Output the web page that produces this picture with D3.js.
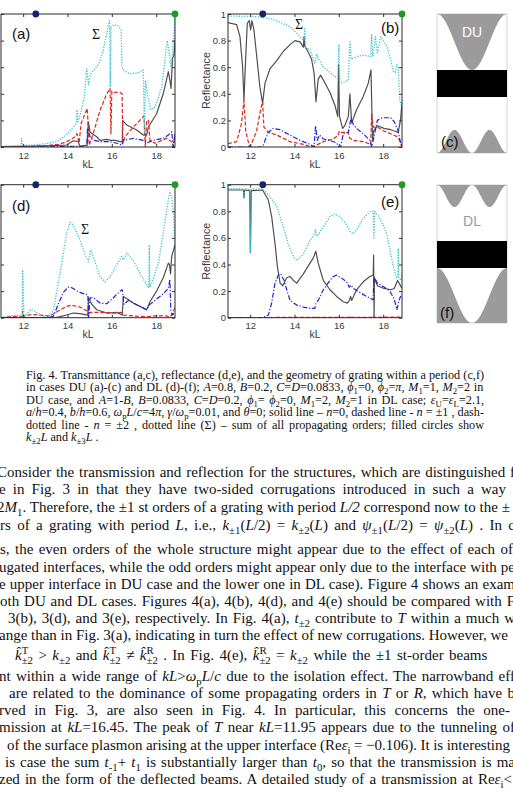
<!DOCTYPE html>
<html>
<head>
<meta charset="utf-8">
<script src="https://cdn.jsdelivr.net/npm/d3@7/dist/d3.min.js"></script>
<style>
  body { margin: 0; background: #fff; }
  svg { display: block; }
</style>
</head>
<body>
<div id="page"></div>
<script>
// ---------- data ----------
const kLRange = [11, 18.85];
const xTickValues = [12, 14, 16, 18];
const yTickValues = [0, 0.2, 0.4, 0.6, 0.8, 1];
const circleKL = [12.57, 18.85];          // k±2 L and k±3 L
const circleColors = ["#15256b", "#1f9b2a"];

// (a) transmittance, DU
const aSolid = [[11,0.003],[12,0.005],[13,0.008],[13.6,0.012],[13.96,0.015],[14.26,0.047],[14.49,0.04],[14.56,0.003],[14.89,0.015],[14.94,0.19],[15.02,0.11],[15.32,0.077],[15.47,0.05],[15.77,0.057],[15.96,0.05],[16.14,0.05],[16.37,0.04],[16.47,0.04],[16.49,0.2],[16.67,0.165],[17.12,0.128],[17.42,0.09],[17.57,0.09],[17.65,0.15],[18.02,0.25],[18.32,0.4],[18.55,0.566],[18.62,0.5],[18.67,0.44],[18.74,0.667],[18.8,0.69],[18.85,0.8]];
const aDash = [[11,0.002],[12,0.004],[13,0.01],[13.6,0.02],[13.96,0.04],[14.33,0.075],[14.43,0.1],[14.52,0.03],[14.62,0.18],[14.89,0.29],[14.98,0.015],[15.16,0.1],[15.47,0.277],[15.77,0.4],[15.92,0.44],[15.96,0.1],[16.0,0.42],[16.14,0.41],[16.37,0.41],[16.46,0.4],[16.5,0.03],[16.59,0.077],[16.97,0.15],[17.35,0.215],[17.45,0.233],[17.51,0.005],[17.57,0.2],[17.65,0.2],[17.72,0.05],[17.95,0.028],[18.47,0.065],[18.7,0.04],[18.77,0.003],[18.85,0.1]];
const aDashDot = [[11,0],[12.57,0],[13.5,0.003],[14.5,0.006],[14.87,0.008],[14.9,0.14],[15.02,0.077],[15.17,0.05],[15.47,0.04],[15.92,0.04],[16.22,0.028],[16.46,0.015],[16.52,0.05],[16.97,0.065],[17.42,0.05],[17.57,0.03],[17.87,0.05],[18.32,0.065],[18.55,0.09],[18.7,0.115],[18.77,0.003],[18.85,0.1]];
const aSum = [[11,0.005],[11.5,0.008],[11.9,0.01],[11.93,0.065],[11.96,0.012],[12.5,0.015],[13,0.025],[13.5,0.04],[13.95,0.09],[14.3,0.16],[14.4,0.18],[14.43,0.28],[14.47,0.19],[14.6,0.26],[14.75,0.37],[14.87,0.59],[14.95,0.47],[15.05,0.55],[15.3,0.6],[15.45,0.64],[15.6,0.72],[15.75,0.84],[15.9,0.95],[15.93,0.45],[15.96,0.9],[16.1,0.92],[16.3,0.91],[16.42,0.88],[16.46,0.6],[16.52,0.58],[16.8,0.55],[17.2,0.56],[17.42,0.58],[17.47,0.11],[17.52,0.5],[17.6,0.4],[17.75,0.28],[17.95,0.3],[18.25,0.45],[18.5,0.8],[18.6,0.7],[18.67,0.6],[18.75,0.73],[18.82,0.9],[18.85,1.0]];

// (b) reflectance, DU
const bSolid = [[11,0.935],[11.39,0.92],[11.54,0.83],[11.66,0.6],[11.72,0.35],[11.78,0.6],[11.87,0.93],[11.96,0.95],[12.02,0.88],[12.08,0.95],[12.17,0.88],[12.29,0.69],[12.44,0.45],[12.56,0.33],[12.67,0.48],[12.9,0.59],[13.2,0.65],[13.5,0.72],[13.8,0.77],[14.02,0.8],[14.25,0.79],[14.4,0.75],[14.43,0.83],[14.46,0.76],[14.6,0.72],[14.77,0.66],[14.88,0.56],[14.97,0.34],[15.07,0.51],[15.18,0.54],[15.38,0.48],[15.6,0.41],[15.83,0.31],[15.95,0.23],[15.99,0.62],[16.03,0.23],[16.17,0.14],[16.27,0.16],[16.43,0.23],[16.5,0.4],[16.58,0.18],[16.8,0.28],[17.1,0.38],[17.33,0.48],[17.45,0.58],[17.52,0.05],[17.57,0.12],[17.74,0.16],[18.04,0.14],[18.34,0.13],[18.5,0.12],[18.68,0.11],[18.78,0.2],[18.85,0.33]];
const bDash = [[11,0.025],[11.39,0.04],[11.6,0.17],[11.72,0.35],[11.8,0.12],[11.96,0.005],[12.06,0.025],[12.29,0.12],[12.47,0.28],[12.56,0.34],[12.62,0.15],[12.82,0.11],[13.2,0.09],[13.8,0.04],[14.4,0.02],[14.77,0.0],[15.0,0.015],[15.3,0.04],[15.75,0.06],[15.98,0.09],[16.02,0.12],[16.1,0.11],[16.43,0.11],[16.48,0.07],[16.65,0.05],[17.1,0.04],[17.44,0.02],[17.48,0.25],[17.55,0.15],[17.74,0.15],[18.04,0.12],[18.34,0.1],[18.6,0.08],[18.75,0.05],[18.85,0.0]];
const bDashDot = [[11,0],[12.56,0],[12.67,0.05],[12.82,0.11],[13.04,0.14],[13.34,0.13],[13.8,0.09],[14.25,0.05],[14.7,0.02],[14.88,0.0],[14.95,0.16],[15.03,0.05],[15.13,0.09],[15.3,0.06],[15.6,0.05],[15.9,0.03],[16.0,0.0],[16.08,0.0],[16.2,0.1],[16.43,0.11],[16.55,0.22],[16.65,0.17],[16.8,0.14],[17.1,0.1],[17.4,0.05],[17.48,0.0],[17.55,0.05],[17.74,0.2],[17.96,0.22],[18.34,0.22],[18.5,0.19],[18.68,0.12],[18.78,0.03],[18.85,0.0]];
const bSum = [[11,0.985],[12.3,0.98],[13.04,0.96],[13.8,0.905],[14.25,0.83],[14.42,0.8],[14.47,0.89],[14.5,0.75],[14.7,0.73],[14.92,0.63],[15.0,0.7],[15.1,0.66],[15.3,0.6],[15.6,0.56],[15.9,0.52],[15.96,0.52],[16.0,0.77],[16.05,0.49],[16.1,0.48],[16.43,0.5],[16.5,0.79],[16.56,0.66],[16.8,0.68],[17.1,0.69],[17.44,0.68],[17.48,0.85],[17.53,0.68],[17.65,0.83],[17.74,0.71],[17.89,0.83],[18.16,0.76],[18.35,0.65],[18.46,0.57],[18.55,0.56],[18.62,0.62],[18.68,0.6],[18.75,0.35],[18.85,0.3]];

// (d) transmittance, DL
const dSolid = [[11,0],[13.5,0.003],[13.66,0.008],[13.96,0.02],[14.26,0.035],[14.56,0.03],[14.92,0.02],[14.95,0.15],[15.1,0.1],[15.32,0.06],[15.77,0.035],[16.22,0.04],[16.47,0.02],[16.52,0.16],[16.75,0.135],[16.97,0.11],[17.27,0.085],[17.57,0.06],[17.72,0.12],[18.02,0.2],[18.32,0.3],[18.55,0.41],[18.6,0.4],[18.65,0.33],[18.7,0.46],[18.77,0.5],[18.85,0.55]];
const dDash = [[11,0.0],[11.4,0.008],[11.95,0.01],[11.98,0.05],[12.01,0.01],[12.4,0.025],[13.2,0.013],[13.58,0.05],[13.96,0.085],[14.18,0.095],[14.56,0.08],[14.89,0.05],[14.95,0.01],[15.02,0.04],[15.47,0.04],[16.07,0.035],[16.44,0.04],[16.52,0.02],[16.97,0.013],[17.57,0.008],[18.02,0.013],[18.47,0.013],[18.62,0.005],[18.74,0.03],[18.85,0.08]];
const dDashDot = [[11,0],[12.57,0],[13.2,0.005],[13.36,0.01],[13.58,0.1],[13.81,0.19],[14.04,0.23],[14.2,0.225],[14.56,0.19],[14.92,0.17],[14.95,0.0],[15.02,0.15],[15.17,0.15],[15.47,0.11],[15.77,0.105],[16.07,0.15],[16.37,0.2],[16.47,0.21],[16.55,0.1],[16.75,0.13],[16.97,0.11],[17.27,0.085],[17.57,0.06],[17.72,0.1],[18.02,0.14],[18.32,0.18],[18.55,0.22],[18.62,0.29],[18.66,0.06],[18.72,0.02],[18.78,0.03],[18.85,0.03]];
const dSum = [[11,0],[11.41,0.013],[11.71,0.02],[11.95,0.0],[11.98,0.36],[12.03,0.01],[12.38,0.063],[12.61,0.038],[12.91,0.013],[13.21,0.013],[13.36,0.058],[13.66,0.33],[13.96,0.635],[14.11,0.717],[14.26,0.697],[14.56,0.584],[14.83,0.459],[14.94,0.42],[15.05,0.51],[15.24,0.42],[15.47,0.308],[15.69,0.27],[15.92,0.31],[16.22,0.396],[16.44,0.459],[16.52,0.434],[16.67,0.484],[16.97,0.43],[17.27,0.333],[17.57,0.246],[17.67,0.221],[17.69,0.547],[17.71,0.23],[17.8,0.258],[18.1,0.409],[18.32,0.635],[18.55,0.885],[18.62,0.947],[18.7,0.91],[18.77,0.81],[18.85,0.55]];

// (e) reflectance, DL
const eSolid = [[11,0.96],[11.7,0.96],[11.72,0.9],[11.75,0.96],[11.98,0.955],[12.01,0.49],[12.05,0.955],[12.56,0.96],[12.82,0.885],[12.97,0.76],[13.12,0.56],[13.23,0.38],[13.35,0.26],[13.47,0.24],[13.65,0.3],[13.8,0.31],[13.95,0.28],[14.1,0.26],[14.4,0.33],[14.7,0.41],[14.85,0.45],[14.96,0.5],[15.07,0.41],[15.3,0.28],[15.6,0.21],[15.9,0.16],[16.2,0.12],[16.38,0.11],[16.48,0.13],[16.53,0.16],[16.58,0.13],[16.8,0.21],[17.1,0.27],[17.4,0.31],[17.55,0.32],[17.57,0.47],[17.59,0.0],[17.61,0.3],[17.74,0.24],[18.04,0.22],[18.34,0.21],[18.5,0.22],[18.65,0.28],[18.72,0.26],[18.85,0.22]];
const eDash = [[11,0],[12.56,0],[13.2,0.002],[14.96,0.003],[14.98,0.012],[15.0,0.003],[16.48,0.003],[16.5,0.012],[16.52,0.003],[17.56,0.003],[17.58,0.015],[17.6,0.003],[18.85,0.005]];
const eDashDot = [[11,0],[12.56,0],[12.82,0.02],[12.97,0.11],[13.12,0.26],[13.27,0.32],[13.38,0.33],[13.53,0.28],[13.65,0.21],[13.8,0.13],[14.1,0.095],[14.4,0.08],[14.7,0.07],[14.92,0.07],[14.97,0.11],[15.07,0.13],[15.3,0.21],[15.6,0.28],[15.75,0.31],[15.9,0.32],[16.1,0.3],[16.35,0.27],[16.47,0.23],[16.55,0.245],[16.65,0.22],[16.95,0.19],[17.25,0.16],[17.48,0.14],[17.55,0.135],[17.58,0.31],[17.74,0.26],[18.04,0.23],[18.3,0.2],[18.5,0.14],[18.62,0.06],[18.7,0.12],[18.78,0.16],[18.85,0.15]];
const eSum = [[11,0.97],[11.7,0.97],[11.72,0.91],[11.75,0.97],[11.98,0.965],[12.01,0.49],[12.05,0.965],[12.56,0.97],[12.9,0.91],[13.2,0.835],[13.5,0.68],[13.72,0.55],[13.95,0.46],[14.1,0.43],[14.4,0.48],[14.7,0.58],[14.88,0.62],[14.95,0.66],[15.0,0.61],[15.3,0.68],[15.6,0.76],[15.83,0.78],[16.05,0.76],[16.35,0.7],[16.5,0.65],[16.65,0.63],[16.8,0.66],[17.1,0.747],[17.4,0.797],[17.55,0.8],[17.58,0.6],[17.62,0.8],[17.8,0.76],[18.04,0.68],[18.16,0.63],[18.46,0.38],[18.6,0.3],[18.66,0.3],[18.68,0.52],[18.71,0.3],[18.8,0.28],[18.85,0.35]];

// ---------- text ----------
const captionLines = [
  "Fig. 4. Transmittance (a,c), reflectance (d,e), and the geometry of grating within a period (c,f)",
  "in cases DU (a)-(c) and DL (d)-(f); *A*=0.8, *B*=0.2, *C*=*D*=0.0833, *ϕ*_{1}=0,  *ϕ*_{2}=*π*, *M*_{1}=1, *M*_{2}=2 in",
  "DU case, and *A*=1-*B*, *B*=0.0833, *C*=*D*=0.2, *ϕ*_{1}= *ϕ*_{2}=0, *M*_{1}=2, *M*_{2}=1 in DL case; *ε*_{U}=*ε*_{L}=2.1,",
  "*a*/*h*=0.4, *b*/*h*=0.6, *ω*_{p}*L*/*c*=4*π*, *γ*/*ω*_{p}=0.01, and *θ*=0; solid line – *n*=0, dashed line - *n* = ±1 , dash-",
  "dotted line - *n* = ±2 , dotted line (Σ) – sum of all propagating orders; filled circles show",
  "*k*_{±2}*L* and *k*_{±3}*L* ."
];
const bodyLines = [
  "Consider the transmission and reflection for the structures, which are distinguished f",
  "e in Fig. 3 in that they have two-sided corrugations introduced in such a way",
  "2*M*_{1}. Therefore, the ±1 st orders of a grating with period *L/2* correspond now to the ±",
  "rs of a grating with period *L*, i.e., *k*_{±1}(*L*/2) = *k*_{±2}(*L*) and *ψ*_{±1}(*L*/2) = *ψ*_{±2}(*L*) . In c",
  "s, the even orders of the whole structure might appear due to the effect of each of",
  "ugated interfaces, while the odd orders might appear only due to the interface with pe",
  "e upper interface in DU case and the lower one in DL case). Figure 4 shows an exam",
  "oth DU and DL cases. Figures 4(a), 4(b), 4(d), and 4(e) should be compared with F",
  "3(b), 3(d), and 3(e), respectively. In Fig. 4(a), *t*_{±2} contribute to *T* within a much w",
  "ange than in Fig. 3(a), indicating in turn the effect of new corrugations. However, we",
  "*k\u0302*^{T}_{±2} > *k*_{±2} and *k\u0302*^{T}_{±2} ≠ *k\u0302*^{R}_{±2} . In Fig. 4(e), *k\u0302*^{R}_{±2} = *k*_{±2} while the ±1 st-order beams",
  "nt within a wide range of *kL*>*ω*_{p}*L*/*c* due to the isolation effect. The narrowband eff",
  "are related to the dominance of some propagating orders in *T* or *R*, which have b",
  "rved in Fig. 3, are also seen in Fig. 4. In particular, this concerns the one-",
  "mission at *kL*=16.45. The peak of *T* near *kL*=11.95 appears due to the tunneling of",
  "of the surface plasmon arising at the upper interface (Re*ε*_{i} = −0.106). It is interesting",
  "is case the sum *t*_{-1}+ *t*_{1} is substantially larger than *t*_{0}, so that the transmission is ma",
  "zed in the form of the deflected beams. A detailed study of a transmission at Re*ε*_{i}<"
];
// layout of the text lines: [left, right, baseline]
const captionLayout = [[26,484,378.5],[26,484,391],[26,484,403.5],[26,484,416],[26,484,428.5],[26,null,441]];
const bodyLayout = [[-3,515,477],[-1,506,494],[-3,510,511.5],[0,515,529.5],[0,513,554],[-1,515,571.5],[-1,515,588.5],[0,515,606],[8,515,623],[-1,508,640],[15,515,660],[-1,515,680.5],[9,515,698],[-1,510,715],[-1,515,732],[7,510,749.5],[5,515,766.5],[-1,512,784]];

// ---------- drawing ----------
const W = 513, H = 795;
const pw = 174, ph = 133;
const sans = "Liberation Sans, Arial, sans-serif";
const serif = "Liberation Serif, Times New Roman, serif";

const svg = d3.select("#page").append("svg").attr("width", W).attr("height", H);

const x = d3.scaleLinear().domain(kLRange).range([0, pw]);
const y = d3.scaleLinear().domain([0, 1]).range([ph, 0]);

const lineStyles = {
  solid:   {color: "#4f4f4f", dash: null,            width: 1.2},
  dash:    {color: "#e3221c", dash: "4,2",           width: 1.2},
  dashdot: {color: "#2121d6", dash: "5,1.8,1.2,1.8", width: 1.2},
  sum:     {color: "#36c2cc", dash: "1.2,1.5",       width: 1.3}
};

const panels = [
  {id: "a", left: 1,   top: 14,    data: {solid: aSolid, dash: aDash, dashdot: aDashDot, sum: aSum}, labels: false, tag: "(a)", tagPos: [11, 24.5],  sigma: [91, 24.5]},
  {id: "b", left: 228, top: 14,    data: {solid: bSolid, dash: bDash, dashdot: bDashDot, sum: bSum}, labels: true,  tag: "(b)", tagPos: [153, 18.5], sigma: [67, 14.5]},
  {id: "d", left: 1,   top: 184.7, data: {solid: dSolid, dash: dDash, dashdot: dDashDot, sum: dSum}, labels: false, tag: "(d)", tagPos: [11, 26],    sigma: [80, 49.5]},
  {id: "e", left: 228, top: 184.7, data: {solid: eSolid, dash: eDash, dashdot: eDashDot, sum: eSum}, labels: true,  tag: "(e)", tagPos: [153, 22.5], sigma: null}
];

const line = d3.line().x(d => x(d[0])).y(d => y(d[1]));

panels.forEach(p => {
  const g = svg.append("g").attr("transform", `translate(${p.left},${p.top})`);

  g.append("clipPath").attr("id", "clip-" + p.id)
    .append("rect").attr("width", pw).attr("height", ph);

  const plot = g.append("g").attr("clip-path", `url(#clip-${p.id})`);
  ["solid", "dash", "dashdot", "sum"].forEach(k => {
    const st = lineStyles[k];
    plot.append("path")
      .datum(p.data[k])
      .attr("d", line)
      .attr("fill", "none")
      .attr("stroke", st.color)
      .attr("stroke-width", st.width)
      .attr("stroke-dasharray", st.dash)
      .attr("stroke-linejoin", "round");
  });

  // axes, ticks pointing inward on all four sides
  const bottom = g.append("g").attr("transform", `translate(0,${ph})`)
    .call(d3.axisBottom(x).tickValues(xTickValues).tickSize(-3).tickPadding(5));
  g.append("g").call(d3.axisTop(x).tickValues(xTickValues).tickSize(-3).tickFormat(""));
  const left = g.append("g")
    .call(d3.axisLeft(y).tickValues(yTickValues).tickSize(-3).tickPadding(2)
      .tickFormat(p.labels ? d3.format("~g") : ""));
  g.append("g").attr("transform", `translate(${pw},0)`)
    .call(d3.axisRight(y).tickValues(yTickValues).tickSize(-3).tickFormat(""));

  g.selectAll(".domain").remove();
  g.selectAll(".tick line").attr("stroke", "#333");
  [bottom, left].forEach(a => a.attr("font-family", sans).attr("font-size", 9.5)
    .selectAll("text").attr("fill", "#3a3a3a"));

  g.append("rect").attr("width", pw).attr("height", ph)
    .attr("fill", "none").attr("stroke", "#2a2a2a").attr("stroke-width", 1);

  g.append("text").attr("x", pw / 2).attr("y", ph + 20.5)
    .attr("text-anchor", "middle").attr("font-family", sans).attr("font-size", 10.5)
    .attr("fill", "#3a3a3a").text("kL");

  if (p.labels) {
    g.append("text")
      .attr("transform", `translate(-18.5,${ph / 2}) rotate(-90)`)
      .attr("text-anchor", "middle").attr("font-family", sans).attr("font-size", 10.8)
      .attr("fill", "#3a3a3a").text("Reflectance");
  }

  g.append("text").attr("x", p.tagPos[0]).attr("y", p.tagPos[1])
    .attr("font-family", sans).attr("font-size", 15).attr("fill", "#111").text(p.tag);

  if (p.sigma) {
    g.append("text").attr("x", p.sigma[0]).attr("y", p.sigma[1])
      .attr("font-family", serif).attr("font-size", 14).attr("fill", "#111").text("Σ");
  }

  g.selectAll(".marker").data(circleKL).enter().append("circle")
    .attr("class", "marker")
    .attr("cx", d => x(d)).attr("cy", 0).attr("r", 3.4)
    .attr("fill", (d, i) => circleColors[i]);
});

// ---------- grating geometry within a period (c), (f) ----------
const gray = "#9b9b9b";
const u = d3.range(0, 1.0001, 0.01);
const gx = d3.scaleLinear().domain([0, 1]).range([437, 507]);

function geometry(top, bottom, bandTop, bandBot, upper, lower) {
  const g = svg.append("g");
  g.append("rect").attr("x", 437).attr("y", top).attr("width", 70).attr("height", bottom - top)
    .attr("fill", "#fff").attr("stroke", "#d4d4d4").attr("stroke-width", 1);
  g.append("path").datum(u)
    .attr("d", d3.area().x(t => gx(t)).y0(top).y1(t => top + upper(t)))
    .attr("fill", gray);
  g.append("path").datum(u)
    .attr("d", d3.area().x(t => gx(t)).y0(t => bottom - lower(t)).y1(bottom))
    .attr("fill", gray);
  g.append("rect").attr("x", 437).attr("y", bandTop).attr("width", 70).attr("height", bandBot - bandTop)
    .attr("fill", "#000");
  return g;
}

const gc = geometry(14, 153, 70, 97,
  t => 56 * (1 - Math.cos(2 * Math.PI * t)) / 2,
  t => 23 * (1 - Math.cos(4 * Math.PI * t)) / 2);
gc.append("text").attr("x", 472).attr("y", 37).attr("text-anchor", "middle")
  .attr("font-family", sans).attr("font-size", 14).attr("fill", "#fff").text("DU");
gc.append("text").attr("x", 441).attr("y", 147)
  .attr("font-family", sans).attr("font-size", 15).attr("fill", "#111").text("(c)");

const gf = geometry(185, 323, 241, 268,
  t => 22 * (1 - Math.cos(4 * Math.PI * t)) / 2,
  t => 55 * (1 + Math.cos(2 * Math.PI * t)) / 2);
gf.append("text").attr("x", 472).attr("y", 226).attr("text-anchor", "middle")
  .attr("font-family", sans).attr("font-size", 14).attr("fill", gray).text("DL");
gf.append("text").attr("x", 440).attr("y", 318)
  .attr("font-family", sans).attr("font-size", 15).attr("fill", "#111").text("(f)");

// ---------- caption and body text ----------
function parse(s) {
  const segs = [];
  let it = false, buf = "", i = 0;
  const push = (t, kind) => { if (t) segs.push({t, it, kind}); };
  while (i < s.length) {
    const c = s[i];
    if (c === "*") { push(buf, "n"); buf = ""; it = !it; i++; }
    else if ((c === "_" || c === "^") && s[i + 1] === "{") {
      push(buf, "n"); buf = "";
      const j = s.indexOf("}", i);
      push(s.slice(i + 2, j), c === "_" ? "sub" : "sup");
      i = j + 1;
    } else { buf += c; i++; }
  }
  push(buf, "n");
  return segs;
}

function writeLine(s, lay, fs) {
  const [lx, rx, by] = lay;
  const t = svg.append("text").attr("x", lx).attr("y", by)
    .attr("font-family", serif).attr("font-size", fs).attr("fill", "#111");
  let shift = 0, prev = null;
  parse(s).forEach(seg => {
    const ts = t.append("tspan").text(seg.t);
    if (seg.it) ts.attr("font-style", "italic");
    let target = 0;
    if (seg.kind === "sub") { target = fs * 0.28; ts.attr("font-size", fs * 0.72); }
    if (seg.kind === "sup") { target = -fs * 0.42; ts.attr("font-size", fs * 0.72); }
    if (seg.kind === "sub" && prev && prev.kind === "sup") {
      ts.attr("dx", -prev.node.getComputedTextLength());
    }
    if (target !== shift) { ts.attr("dy", target - shift); shift = target; }
    prev = {kind: seg.kind, node: ts.node()};
  });
  if (rx != null) {
    const n = (t.text().match(/ /g) || []).length;
    const w = t.node().getComputedTextLength();
    if (n) t.attr("word-spacing", (rx - lx - w) / n);
  }
}

captionLines.forEach((s, i) => writeLine(s, captionLayout[i], 12.2));
bodyLines.forEach((s, i) => writeLine(s, bodyLayout[i], 15));
</script>
</body>
</html>
